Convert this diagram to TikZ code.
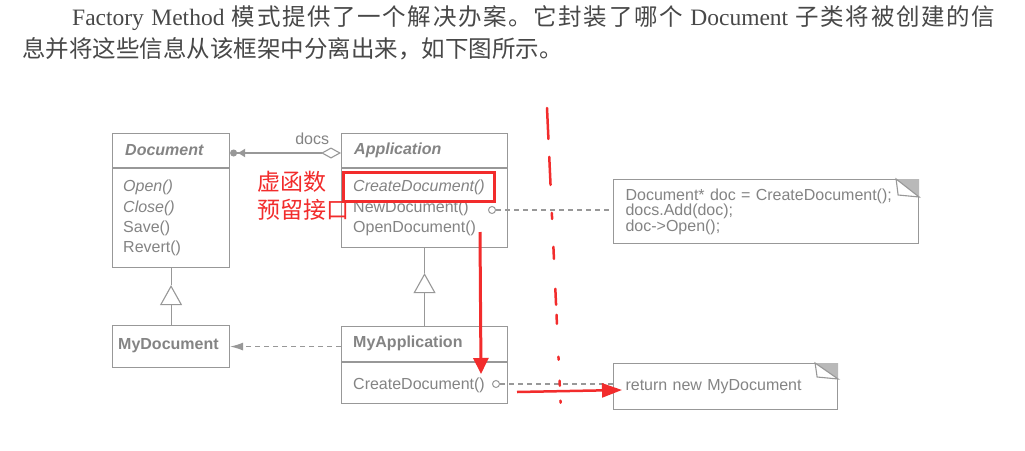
\documentclass[tikz,border=0pt]{standalone}
\usepackage{fontspec}
\setmainfont{Liberation Serif}
\setsansfont{Liberation Sans}
\newfontfamily\cjk{Noto Sans CJK SC}
\newfontfamily\cjkaberto[LetterSpace=7]{Noto Sans CJK SC}
\usepackage{xcolor}
\usepackage{tikz}
\usetikzlibrary{arrows.meta,positioning}
\definecolor{cinzalinha}{RGB}{152,152,152}
\definecolor{cinzatexto}{RGB}{132,132,132}
\definecolor{cinzadobra}{RGB}{185,185,185}
\definecolor{pretotexto}{RGB}{72,72,72}
\definecolor{vermelho}{RGB}{242,44,44}
\tikzset{
  classe/.style={rectangle,draw=cinzalinha,line width=1.1pt,anchor=north west,inner sep=0pt},
  titulo/.style={anchor=west,inner sep=0pt,text=cinzatexto,
    font=\sffamily\bfseries\fontsize{16}{18}\selectfont},
  metodo/.style={anchor=west,inner sep=0pt,text=cinzatexto,
    font=\sffamily\fontsize{16}{18}\selectfont},
  nota/.style={rectangle,draw=cinzalinha,line width=1.1pt,anchor=north west,align=left,
    inner xsep=12pt,inner ysep=0pt,text=cinzatexto,font=\sffamily\fontsize{16}{15.5}\selectfont},
  bolinha/.style={circle,draw=cinzalinha,line width=1pt,fill=white,minimum size=7pt,inner sep=0pt},
  linha/.style={draw=cinzalinha,line width=1.1pt},
  tracejado/.style={linha,dash pattern=on 5pt off 4pt},
  heranca/.style={linha,-{Triangle[open,fill=white,length=20pt,width=22pt]}},
  agregacao/.style={linha,{Diamond[open,fill=white,length=20pt,width=11pt]}-{Latex[length=8pt,width=9pt]Circle[length=7pt]}},
  dependencia/.style={tracejado,-{Latex[length=13pt,width=8pt]}},
  destaque/.style={rectangle,draw=vermelho,line width=2.6pt,anchor=north west,inner sep=0pt},
  aviso/.style={anchor=west,inner sep=0pt,text=vermelho,font=\cjk\fontsize{23}{23}\selectfont},
  setavermelha/.style={draw=vermelho,line width=3pt,-{Triangle[length=16pt,width=15pt]}},
  paragrafo/.style={anchor=west,inner sep=0pt,text=pretotexto,font=\rmfamily\fontsize{23.5}{26}\selectfont}
}
\begin{document}
\begin{tikzpicture}[x=1pt,y=-1pt]
\useasboundingbox (0,0) rectangle (1025,450);
\fill[white] (0,0) rectangle (1025,450);
\node[paragrafo] (linha1) at (72,18) {\makebox[923pt][s]{Factory Method {\cjkaberto 模式提供了一个解决办案。它封装了哪个} Document {\cjkaberto 子类将被创建的信}}};
\node[paragrafo] (linha2) at (22,49) {\cjk 息并将这些信息从该框架中分离出来，如下图所示。};

\node[classe,minimum width=117pt,minimum height=134pt] (document) at (112,133) {};
\draw[linha] ([yshift=-35pt]document.north west) -- ([yshift=-35pt]document.north east);
\node[titulo] (tdocument) at (125,150) {\itshape Document};
\node[metodo] (open) at (123,187) {\itshape Open()};
\node[metodo] (close) at (123,208) {\itshape Close()};
\node[metodo] (save) at (123,228) {Save()};
\node[metodo] (revert) at (123,248) {Revert()};

\node[classe,minimum width=166pt,minimum height=114pt] (application) at (341,133) {};
\draw[linha] ([yshift=-35pt]application.north west) -- ([yshift=-35pt]application.north east);
\node[titulo] (tapplication) at (354,150) {\itshape Application};
\node[metodo] (createdoc) at (353,187) {\itshape CreateDocument()};
\node[metodo] (newdoc) at (353,208) {NewDocument()};
\node[metodo] (opendoc) at (353,228) {OpenDocument()};

\node[classe,minimum width=117pt,minimum height=42pt] (mydocument) at (112,325) {};
\node[titulo] (tmydocument) at (118,346) {MyDocument};

\node[classe,minimum width=166pt,minimum height=77pt] (myapplication) at (341,326) {};
\draw[linha] ([yshift=-36pt]myapplication.north west) -- ([yshift=-36pt]myapplication.north east);
\node[titulo] (tmyapplication) at (353,343) {MyApplication};
\node[metodo] (mycreatedoc) at (353,385) {CreateDocument()};

\node[nota,minimum height=64pt,text width=281pt] (nota1) at (613,179)
  {Document* doc = CreateDocument();\\docs.Add(doc);\\doc->Open();};
\node[nota,minimum height=46pt,text width=200pt] (nota2) at (613,363) {return new MyDocument};
\fill[cinzadobra] ([xshift=-23pt]nota1.north east) -- (nota1.north east) -- ([yshift=-18pt]nota1.north east) -- cycle;
\draw[linha,fill=white] ([xshift=-23pt]nota1.north east) -- ([xshift=-21pt,yshift=-16pt]nota1.north east) -- ([yshift=-18pt]nota1.north east) -- cycle;
\fill[cinzadobra] ([xshift=-23pt]nota2.north east) -- (nota2.north east) -- ([yshift=-16pt]nota2.north east) -- cycle;
\draw[linha,fill=white] ([xshift=-23pt]nota2.north east) -- ([xshift=-21pt,yshift=-14pt]nota2.north east) -- ([yshift=-16pt]nota2.north east) -- cycle;

\draw[agregacao] ([yshift=-20pt]application.north west) -- ([yshift=-20pt]document.north east)
  node[pos=0.26,above=8pt,metodo,anchor=south] (docs) {docs};
\draw[heranca] (mydocument.north) -- ([yshift=-17pt]document.south);
\draw[linha] ([yshift=-17pt]document.south) -- (document.south);
\draw[heranca] (myapplication.north) -- ([yshift=-25pt]application.south);
\draw[linha] ([yshift=-25pt]application.south) -- (application.south);
\draw[dependencia] (myapplication.west |- mydocument.east) -- (mydocument.east);

\node[bolinha] (bola1) at (492,210) {};
\node[bolinha] (bola2) at (496,384) {};
\draw[tracejado] (bola1) -- (bola1 -| nota1.west);
\draw[tracejado] (bola2) -- (bola2 -| nota2.west);

\node[destaque,minimum width=151pt,minimum height=29pt] (realce) at (342,171) {};
\node[aviso] (aviso1) at (257,182) {虚函数};
\node[aviso] (aviso2) at (257,210) {预留接口};
\coordinate (descida1) at (480,232);
\coordinate (descida2) at (481,374);
\coordinate (ida1) at (517,392);
\coordinate (ida2) at (622,390);
\coordinate (corte1) at (547,108);
\coordinate (corte2) at (561,412);
\draw[setavermelha] (descida1) -- (descida2);
\draw[setavermelha,line width=2.5pt,-{Triangle[length=20pt,width=14pt]}] (ida1) -- (ida2);
\draw[vermelho,line width=2.5pt,line cap=round,
  dash pattern=on 31pt off 18pt on 28pt off 28pt on 6pt off 28pt on 12pt off 30pt on 16pt off 10pt on 9pt off 33pt on 3pt off 21pt on 5pt off 15pt on 2pt off 40pt]
  (corte1) -- (corte2);
\end{tikzpicture}
\end{document}
